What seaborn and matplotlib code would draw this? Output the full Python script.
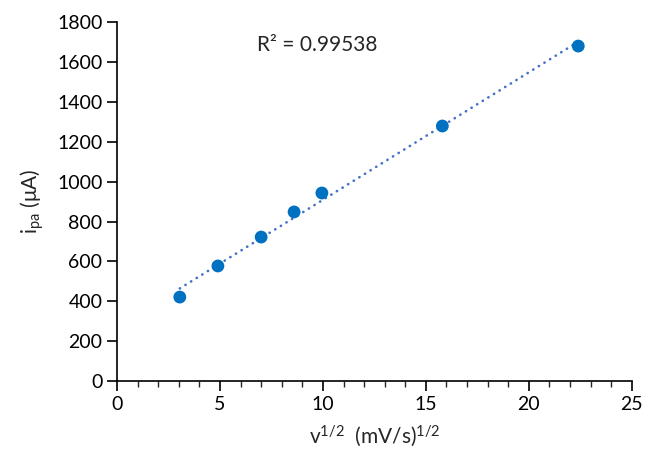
import numpy as np
import matplotlib
matplotlib.use("Agg")
import matplotlib.pyplot as plt
from matplotlib.ticker import MultipleLocator
import seaborn as sns
import pandas as pd

sqrt_scan_rate = [3.05, 4.9, 7.0, 8.6, 9.95, 15.8, 22.4]
ipa = [421, 577, 722, 848, 943, 1279, 1680]
r2_label = "R² = 0.99538"
xlabel = r"v$\mathregular{^{1/2}}$  (mV/s)$\mathregular{^{1/2}}$"
ylabel = r"i$\mathregular{_{pa}}$ (μA)"

sns.set_style("white")
plt.rcParams['font.family'] = ['Lato', 'DejaVu Sans']
plt.rcParams['mathtext.fontset'] = 'custom'
plt.rcParams['mathtext.rm'] = 'Lato'
plt.rcParams['mathtext.it'] = 'Lato'

df = pd.DataFrame({"x": sqrt_scan_rate, "y": ipa})

fig = plt.figure(figsize=(6.5, 4.61), dpi=100)
ax = fig.add_axes([0.18, 0.1735, 0.792, 0.7785])

# trendline
k, b = np.polyfit(df["x"], df["y"], 1)
xs = np.array([min(sqrt_scan_rate), max(sqrt_scan_rate)])
ax.plot(xs, k * xs + b, linestyle=(0, (0.1, 2.4)), color="#4472C4", lw=1.9,
        dash_capstyle="round", zorder=2)

sns.scatterplot(data=df, x="x", y="y", ax=ax, color="#0070C0", s=85,
                edgecolor="none", zorder=3)

ax.set_xlim(0, 25)
ax.set_ylim(0, 1800)
ax.xaxis.set_major_locator(MultipleLocator(5))
ax.xaxis.set_minor_locator(MultipleLocator(1))
ax.yaxis.set_major_locator(MultipleLocator(200))

for s in ["top", "right"]:
    ax.spines[s].set_visible(False)
for s in ["left", "bottom"]:
    ax.spines[s].set_color("black")
    ax.spines[s].set_linewidth(1.2)

ax.tick_params(axis="both", which="major", direction="out", length=7, width=1.2,
               labelsize=14, colors="black", bottom=True, left=True)
ax.tick_params(axis="x", which="minor", direction="out", length=4, width=1.0,
               bottom=True)

ax.set_xlabel(xlabel, fontsize=15, labelpad=8)
ax.set_ylabel(ylabel, fontsize=15, labelpad=8)

ax.text(6.8, 1685, r2_label, fontsize=15, ha="left", va="center")

fig.savefig("out.png", dpi=100)
